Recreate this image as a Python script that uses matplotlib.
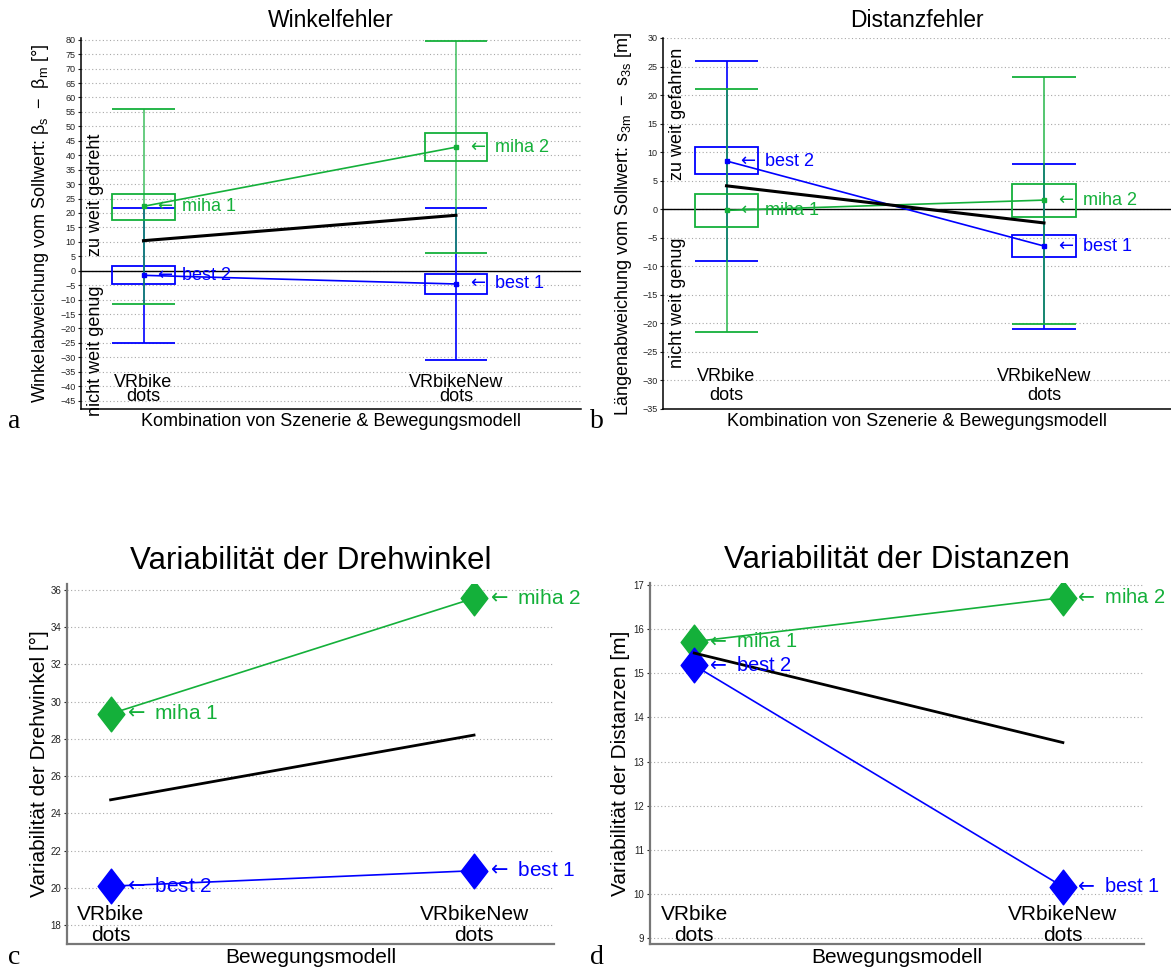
import matplotlib
matplotlib.use('Agg')
import matplotlib.pyplot as plt
from matplotlib.patches import Rectangle
from matplotlib.path import Path

plt.rcParams['font.family'] = ['Liberation Sans', 'DejaVu Sans']
plt.rcParams['axes.unicode_minus'] = True

# --- data ---------------------------------------------------------------
x_pos = [1, 2]
categories = ['VRbike\ndots', 'VRbikeNew\ndots']
miha_names = ['miha 1', 'miha 2']
best_names = ['best 2', 'best 1']

# Winkelfehler (deg): mean, box (lo/hi), whiskers (lo/hi)
wink_miha_mean = [22.3, 42.8]
wink_miha_box_lo = [17.7, 38.0]
wink_miha_box_hi = [26.6, 47.6]
wink_miha_wlo = [-11.5, 6.2]
wink_miha_whi = [55.9, 79.7]
wink_best_mean = [-1.6, -4.6]
wink_best_box_lo = [-4.7, -8.1]
wink_best_box_hi = [1.5, -1.1]
wink_best_wlo = [-24.9, -31.0]
wink_best_whi = [21.6, 21.6]
wink_avg = [10.4, 19.2]

# Distanzfehler (m)
dist_miha_mean = [-0.2, 1.6]
dist_miha_box_lo = [-3.1, -1.3]
dist_miha_box_hi = [2.6, 4.4]
dist_miha_wlo = [-21.5, -20.1]
dist_miha_whi = [21.1, 23.2]
dist_best_mean = [8.45, -6.45]
dist_best_box_lo = [6.2, -8.4]
dist_best_box_hi = [10.9, -4.5]
dist_best_wlo = [-9.0, -20.9]
dist_best_whi = [26.0, 8.0]
dist_avg = [4.1, -2.4]

# Variabilitaet
drehw_miha = [29.34, 35.54]
drehw_best = [20.1, 20.93]
drehw_avg = [24.73, 28.2]
distv_miha = [15.72, 16.72]
distv_best = [15.18, 10.16]
distv_avg = [15.46, 13.43]

GREEN = '#14b03a'
BLUE = '#0000ff'

diamond = Path([(0, 1), (0.77, 0), (0, -1), (-0.77, 0), (0, 1)],
               [Path.MOVETO, Path.LINETO, Path.LINETO, Path.LINETO, Path.CLOSEPOLY])

fig = plt.figure(figsize=(11.71, 9.71), dpi=100)


def style_axes(ax, xlim, ylim, yticks, tick_fs, spine_col, spine_lw):
    ax.set_xlim(*xlim)
    ax.set_ylim(*ylim)
    ax.set_yticks(yticks)
    ax.set_xticks([])
    ax.spines['top'].set_visible(False)
    ax.spines['right'].set_visible(False)
    for s in ('left', 'bottom'):
        ax.spines[s].set_color(spine_col)
        ax.spines[s].set_linewidth(spine_lw)
    ax.tick_params(axis='y', direction='out', length=2.5, width=0.8,
                   labelsize=tick_fs, pad=1.5, colors='#222222')
    ax.yaxis.grid(True, linestyle=(0, (1, 2.2)), color='#a8a8a8', linewidth=0.8)
    ax.set_axisbelow(True)


def cat_labels(ax, fs, offset, spacing):
    # category names sit inside the axes, just above the x axis
    for xi, lab in zip(x_pos, categories):
        ax.annotate(lab, (xi, 0), xycoords=('data', 'axes fraction'),
                    xytext=(0, offset), textcoords='offset pixels',
                    ha='center', va='bottom', multialignment='center',
                    linespacing=spacing, fontsize=fs)


def box_series(ax, mean, blo, bhi, wlo, whi, color, alpha=1.0, z=3):
    ax.vlines(x_pos, wlo, whi, color=color, lw=1.2, alpha=alpha, zorder=z)
    ax.hlines(wlo, [x - 0.1 for x in x_pos], [x + 0.1 for x in x_pos],
              color=color, lw=1.3, zorder=z)
    ax.hlines(whi, [x - 0.1 for x in x_pos], [x + 0.1 for x in x_pos],
              color=color, lw=1.3, zorder=z)
    for xi, lo, hi in zip(x_pos, blo, bhi):
        ax.add_patch(Rectangle((xi - 0.1, lo), 0.2, hi - lo, fill=False,
                               edgecolor=color, lw=1.3, zorder=z))
    ax.plot(x_pos, mean, '-s', color=color, lw=1.2, ms=3.5, zorder=z + 1)


def point_labels(ax, vals, names, color, fs, dx=0.034):
    for xi, v, n in zip(x_pos, vals, names):
        ax.text(xi + dx, v, r'$\leftarrow$ ' + n, color=color, fontsize=fs,
                ha='left', va='center', zorder=6)


# ---------------- a: Winkelfehler ----------------
ax = fig.add_axes([81 / 1171, 1 - 409 / 971, 500 / 1171, 371 / 971])
style_axes(ax, (0.8, 2.4), (-47.9, 80.6), range(-45, 81, 5), 6.5, 'black', 1.1)
ax.axhline(0, color='black', lw=1.0, zorder=2)
box_series(ax, wink_best_mean, wink_best_box_lo, wink_best_box_hi,
           wink_best_wlo, wink_best_whi, BLUE, z=3)
box_series(ax, wink_miha_mean, wink_miha_box_lo, wink_miha_box_hi,
           wink_miha_wlo, wink_miha_whi, GREEN, alpha=0.75, z=3)
ax.plot(x_pos, wink_avg, color='black', lw=2.2, zorder=5)
point_labels(ax, wink_miha_mean, miha_names, GREEN, 13)
point_labels(ax, wink_best_mean, best_names, BLUE, 13)
ax.text(0.819, 5.2, 'zu weit gedreht', rotation=90, ha='left', va='bottom', fontsize=13)
ax.text(0.819, -5.0, 'nicht weit genug', rotation=90, ha='left', va='top',
        fontsize=13, clip_on=False)
cat_labels(ax, 13, 3.7, 0.83)
ax.set_title('Winkelfehler', fontsize=16.5, pad=8)
ax.set_ylabel(r'Winkelabweichung vom Sollwert: $\mathregular{\beta_s\ -\ \beta_m}$ [°]',
              fontsize=13)
ax.yaxis.label.set_va('center')
ax.yaxis.set_label_coords(-0.08, 0.5)
ax.set_xlabel('Kombination von Szenerie & Bewegungsmodell', fontsize=13)
ax.xaxis.label.set_va('center')
ax.xaxis.set_label_coords(0.5, -13 / 371)

# ---------------- b: Distanzfehler ----------------
ax = fig.add_axes([663 / 1171, 1 - 409 / 971, 508 / 1171, 371 / 971])
style_axes(ax, (0.8, 2.4), (-35, 30), range(-35, 31, 5), 6.5, 'black', 1.1)
ax.axhline(0, color='black', lw=1.0, zorder=2)
box_series(ax, dist_best_mean, dist_best_box_lo, dist_best_box_hi,
           dist_best_wlo, dist_best_whi, BLUE, z=3)
box_series(ax, dist_miha_mean, dist_miha_box_lo, dist_miha_box_hi,
           dist_miha_wlo, dist_miha_whi, GREEN, alpha=0.85, z=3)
ax.plot(x_pos, dist_avg, color='black', lw=2.2, zorder=5)
point_labels(ax, dist_miha_mean, miha_names, GREEN, 13)
point_labels(ax, dist_best_mean, best_names, BLUE, 13)
ax.text(0.819, 5.2, 'zu weit gefahren', rotation=90, ha='left', va='bottom', fontsize=13)
ax.text(0.819, -5.0, 'nicht weit genug', rotation=90, ha='left', va='top', fontsize=13)
cat_labels(ax, 13, 4.7, 1.14)
ax.set_title('Distanzfehler', fontsize=16.5, pad=8)
ax.set_ylabel(r'Längenabweichung vom Sollwert: $\mathregular{s_{3m}\ -\ s_{3s}}$ [m]',
              fontsize=13)
ax.yaxis.label.set_va('center')
ax.yaxis.set_label_coords(-0.077, 0.5)
ax.set_xlabel('Kombination von Szenerie & Bewegungsmodell', fontsize=13)
ax.xaxis.label.set_va('center')
ax.xaxis.set_label_coords(0.5, -13 / 371)

# ---------------- c: Variabilitaet der Drehwinkel ----------------
ax = fig.add_axes([67 / 1171, 1 - 944 / 971, 487 / 1171, 360 / 971])
style_axes(ax, (0.88, 2.22), (17.0, 36.3), range(18, 37, 2), 7, '#777777', 1.6)
ax.plot(x_pos, drehw_miha, color=GREEN, lw=1.2, marker=diamond, ms=25,
        mfc=GREEN, mec=GREEN, zorder=3)
ax.plot(x_pos, drehw_best, color=BLUE, lw=1.2, marker=diamond, ms=25,
        mfc=BLUE, mec=BLUE, zorder=3)
ax.plot(x_pos, drehw_avg, color='black', lw=2.0, zorder=4)
point_labels(ax, drehw_miha, miha_names, GREEN, 15, dx=0.033)
point_labels(ax, drehw_best, best_names, BLUE, 15, dx=0.033)
cat_labels(ax, 15, -0.9, 1.12)
ax.set_title('Variabilität der Drehwinkel', fontsize=22.5, pad=11)
ax.set_ylabel('Variabilität der Drehwinkel [°]', fontsize=15)
ax.yaxis.label.set_va('center')
ax.yaxis.set_label_coords(-0.0575, 0.5)
ax.set_xlabel('Bewegungsmodell', fontsize=15)
ax.xaxis.label.set_va('center')
ax.xaxis.set_label_coords(0.5, -13 / 360)

# ---------------- d: Variabilitaet der Distanzen ----------------
ax = fig.add_axes([650 / 1171, 1 - 944 / 971, 494 / 1171, 361 / 971])
style_axes(ax, (0.88, 2.22), (8.86, 17.05), range(9, 18, 1), 7, '#777777', 1.6)
ax.plot(x_pos, distv_miha, color=GREEN, lw=1.2, marker=diamond, ms=25,
        mfc=GREEN, mec=GREEN, zorder=3)
ax.plot(x_pos, distv_best, color=BLUE, lw=1.2, marker=diamond, ms=25,
        mfc=BLUE, mec=BLUE, zorder=3)
ax.plot(x_pos, distv_avg, color='black', lw=2.0, zorder=4)
point_labels(ax, distv_miha, miha_names, GREEN, 14.5, dx=0.031)
point_labels(ax, distv_best, best_names, BLUE, 14.5, dx=0.031)
cat_labels(ax, 15, -0.9, 1.12)
ax.set_title('Variabilität der Distanzen', fontsize=22.5, pad=11)
ax.set_ylabel('Variabilität der Distanzen [m]', fontsize=15)
ax.yaxis.label.set_va('center')
ax.yaxis.set_label_coords(-0.059, 0.5)
ax.set_xlabel('Bewegungsmodell', fontsize=15)
ax.xaxis.label.set_va('center')
ax.xaxis.set_label_coords(0.5, -13 / 361)

# panel letters
for letter, px, py in [('a', 14, 428), ('b', 597, 428), ('c', 14, 964), ('d', 597, 964)]:
    fig.text(px / 1171, 1 - py / 971, letter, family='Liberation Serif',
             fontsize=20, ha='center', va='baseline')

fig.savefig('out.png', dpi=100)
